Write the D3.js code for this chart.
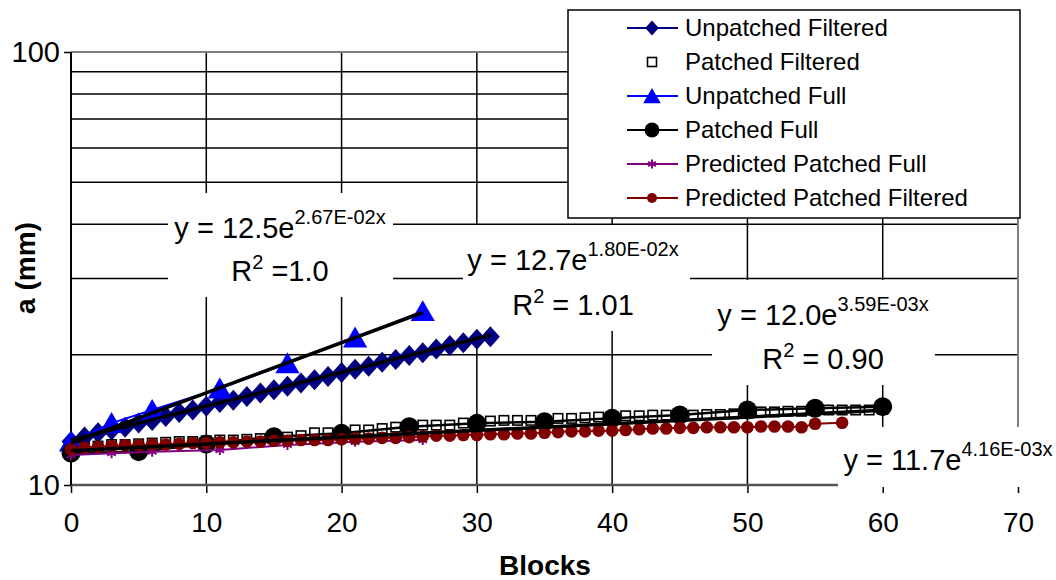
<!DOCTYPE html>
<html><head><meta charset="utf-8">
<script src="https://cdn.jsdelivr.net/npm/d3@7"></script>
<style>body{margin:0;background:#fff;} svg{display:block;font-family:"Liberation Sans",Arial,sans-serif;}</style>
</head><body><svg id="c" width="1056" height="580"></svg>
<script>
// ---------- data ----------
const xTicks = [0,10,20,30,40,50,60,70];
const yTicks = [10,100];
const yGrid = [20,30,40,50,60,70,80,90];
const xGrid = [10,20,30,40,50,60];

const unpFiltX = [0,1,2,3,4,5,6,7,8,9,10,11,12,13,14,15,16,17,18,19,20,21,22,23,24,25,26,27,28,29,30,31];
const unpFiltY = [12.6,12.9,13.2,13.4,13.6,13.9,14.1,14.4,14.7,14.9,15.2,15.5,15.7,16.0,16.3,16.6,16.9,17.2,17.5,17.8,18.2,18.5,18.8,19.2,19.5,19.9,20.2,20.6,21.0,21.3,21.7,22.0];

const patFiltX = [0,1,2,3,4,5,6,7,8,9,10,11,12,13,14,15,16,17,18,19,20,21,22,23,24,25,26,27,28,29,30,31,32,33,34,35,36,37,38,39,40,41,42,43,44,45,46,47,48,49,50,51,52,53,54,55,56,57,58,59,60];
const patFiltY = [12.1,12.2,12.3,12.4,12.4,12.45,12.5,12.55,12.6,12.6,12.65,12.7,12.7,12.75,12.8,12.85,12.9,13.0,13.2,13.2,13.25,13.4,13.4,13.5,13.6,13.65,13.75,13.75,13.75,13.9,13.9,14.05,14.1,14.1,14.1,14.15,14.25,14.25,14.3,14.35,14.4,14.45,14.45,14.5,14.5,14.5,14.5,14.55,14.55,14.6,14.65,14.75,14.75,14.8,14.8,14.85,14.9,14.9,14.9,14.9,14.95];

const unpFullX = [0,3,6,11,16,21,26];
const unpFullY = [12.6,13.9,14.9,16.7,19.1,21.9,25.2];

const patFullX = [0,5,10,15,20,25,30,35,40,45,50,55,60];
const patFullY = [11.86,11.94,12.44,12.93,13.16,13.63,13.88,14.0,14.26,14.51,14.9,15.04,15.17];

const predFullX = [0,3,6,11,16,21,26];
const predFullY = [11.73,11.84,11.94,12.04,12.37,12.58,12.7];

const predFiltX = [0,1,2,3,4,5,6,7,8,9,10,11,12,13,14,15,16,17,18,19,20,21,22,23,24,25,26,27,28,29,30,31,32,33,34,35,36,37,38,39,40,41,42,43,44,45,46,47,48,49,50,51,52,53,54,55,57];
const predFiltY = [12.1,12.2,12.25,12.3,12.35,12.35,12.4,12.4,12.45,12.5,12.5,12.55,12.55,12.6,12.6,12.65,12.65,12.7,12.7,12.7,12.75,12.8,12.8,12.85,12.85,12.9,12.95,13.0,13.0,13.05,13.05,13.1,13.1,13.15,13.15,13.2,13.25,13.3,13.3,13.35,13.35,13.4,13.45,13.5,13.5,13.55,13.55,13.6,13.6,13.6,13.6,13.65,13.65,13.65,13.6,13.85,13.92];

// trendlines (coefficients as printed on the chart)
const trendA = [12.5, 12.7, 12.0];
const trendB = [0.0267, 0.018, 0.00359];
const trendXmax = [26, 31, 60];

const legendNames = ["Unpatched Filtered","Patched Filtered","Unpatched Full","Patched Full","Predicted Patched Full","Predicted Patched Filtered"];
const legendColors = ["#000080","#000000","#0000FF","#000000","#800080","#800000"];
const legendMarkers = ["diamond","square","triangle","circle","asterisk","dot"];
const legendHasLine = [true,false,true,true,true,true];

// ---------- chart ----------
const svg = d3.select("#c");
const L = 71, R = 1018, T = 52, B = 485;
const x = d3.scaleLinear().domain([0,70]).range([L,R]);
const y = d3.scaleLog().domain([10,100]).range([B,T]);

// gridlines
const grid = svg.append("g").attr("stroke","#000").attr("stroke-width",1.5);
grid.selectAll("line.h").data(yGrid).join("line")
  .attr("x1",L).attr("x2",R).attr("y1",d=>y(d)).attr("y2",d=>y(d));
grid.selectAll("line.v").data(xGrid).join("line")
  .attr("x1",d=>x(d)).attr("x2",d=>x(d)).attr("y1",T).attr("y2",B);

// plot border (top/right gray)
svg.append("path").attr("d",`M${L},${T}H${R}V${B}`).attr("fill","none").attr("stroke","#808080").attr("stroke-width",2);

// axes
const xAxis = svg.append("g").attr("transform",`translate(0,${B})`)
  .call(d3.axisBottom(x).tickValues(xTicks).tickSize(8).tickPadding(19).tickFormat(d3.format("d")));
xAxis.select(".domain").remove();
xAxis.selectAll("line").attr("stroke","#000").attr("stroke-width",1.5);
xAxis.selectAll("text").attr("font-size",28).attr("fill","#000").attr("font-family","Liberation Sans, Arial, sans-serif");
svg.append("line").attr("x1",L).attr("x2",R).attr("y1",B).attr("y2",B).attr("stroke","#555").attr("stroke-width",2.5);

const yAxis = svg.append("g").attr("transform",`translate(${L},0)`)
  .call(d3.axisLeft(y).tickValues(yTicks).tickSize(7).tickPadding(4).tickFormat(d3.format("d")));
yAxis.select(".domain").remove();
yAxis.selectAll("line").attr("stroke","#000").attr("stroke-width",1.5);
yAxis.selectAll("text").attr("font-size",29).attr("fill","#000").attr("font-family","Liberation Sans, Arial, sans-serif");
svg.append("line").attr("x1",L).attr("x2",L).attr("y1",T).attr("y2",B).attr("stroke","#000").attr("stroke-width",2);

// axis titles
svg.append("text").attr("x",545).attr("y",575).attr("text-anchor","middle")
  .attr("font-size",28).attr("font-weight","bold").text("Blocks");
svg.append("text").attr("transform","translate(35,268) rotate(-90)").attr("text-anchor","middle")
  .attr("font-size",28).attr("font-weight","bold").text("a (mm)");

// trendline label boxes
const boxes = svg.append("g");
function trendLabel(rx,ry,rw,rh,cx,by1,a,b,r2,by2){
  boxes.append("rect").attr("x",rx).attr("y",ry).attr("width",rw).attr("height",rh).attr("fill","#fff");
  const t = boxes.append("text").attr("x",cx).attr("y",by1).attr("text-anchor","middle").attr("font-size",29);
  t.append("tspan").text("y = "+a+"e");
  t.append("tspan").attr("font-size",20).attr("dy",-14).text(b);
  if (r2 !== null){
    const t2 = boxes.append("text").attr("x",cx).attr("y",by2).attr("text-anchor","middle").attr("font-size",29);
    t2.append("tspan").text("R");
    t2.append("tspan").attr("font-size",20).attr("dy",-12).text("2");
    t2.append("tspan").attr("dy",12).text(r2);
  }
}
trendLabel(168,193,225,104,280,238,"12.5","2.67E-02x"," =1.0",281);
trendLabel(463,225,227,106,573,270,"12.7","1.80E-02x"," = 1.01",315);
trendLabel(712,280,223,105,823,325,"12.0","3.59E-03x"," = 0.90",369);
trendLabel(838,427,218,60,948,470,"11.7","4.16E-03x",null,0);

// ---------- markers ----------
function marker(g, type, color, s){
  if (type==="diamond"){
    g.append("path").attr("d",`M0,${-s}L${s*0.9},0L0,${s}L${-s*0.9},0Z`).attr("fill",color);
  } else if (type==="square"){
    g.append("rect").attr("x",-s).attr("y",-s).attr("width",2*s).attr("height",2*s)
      .attr("fill","#fff").attr("stroke","#000").attr("stroke-width",1.6);
  } else if (type==="triangle"){
    g.append("path").attr("d",`M0,${-s}L${s*1.1},${s*0.9}L${-s*1.1},${s*0.9}Z`).attr("fill",color);
  } else if (type==="circle" || type==="dot"){
    g.append("circle").attr("r",s).attr("fill",color);
  } else if (type==="asterisk"){
    const k = s*0.866;
    g.append("path").attr("d",`M0,${-s}V${s}M${-k},${-s/2}L${k},${s/2}M${-k},${s/2}L${k},${-s/2}`)
      .attr("stroke",color).attr("stroke-width",2).attr("fill","none");
  }
}

const line = d3.line().x(d=>x(d[0])).y(d=>y(d[1]));
const plot = svg.append("g");
function series(xs, ys, color, lw, type, s){
  const pts = xs.map((v,i)=>[v, ys[i]]);
  if (lw>0) plot.append("path").datum(pts).attr("d",line).attr("fill","none").attr("stroke",color).attr("stroke-width",lw);
  pts.forEach(p=>{
    const g = plot.append("g").attr("transform",`translate(${x(p[0])},${y(p[1])})`);
    marker(g,type,color,s);
  });
}
series(unpFiltX, unpFiltY, "#000080", 2, "diamond", 10.5);
series(patFiltX, patFiltY, "#000", 0, "square", 4.7);
series(unpFullX, unpFullY, "#0000FF", 2, "triangle", 11);
series(patFullX, patFullY, "#000", 2.5, "circle", 9.5);
series(predFullX, predFullY, "#800080", 2, "asterisk", 5);
series(predFiltX, predFiltY, "#800000", 2, "dot", 6.3);

// trendlines
trendA.forEach((a,i)=>{
  const pts = [[0, a],[trendXmax[i], a*Math.exp(trendB[i]*trendXmax[i])]];
  plot.append("path").datum(pts).attr("d",line).attr("fill","none").attr("stroke","#000").attr("stroke-width",3.5);
});

// ---------- legend ----------
const lg = svg.append("g");
lg.append("rect").attr("x",568).attr("y",10).attr("width",452).attr("height",208)
  .attr("fill","#fff").attr("stroke","#000").attr("stroke-width",1.5);
legendNames.forEach((n,i)=>{
  const cy = 28 + i*34;
  if (legendHasLine[i]) lg.append("line").attr("x1",627).attr("x2",678).attr("y1",cy).attr("y2",cy)
    .attr("stroke",legendColors[i]).attr("stroke-width",2);
  const g = lg.append("g").attr("transform",`translate(652,${cy})`);
  const sz = [7.5,4.5,8,7.5,4.5,5][i];
  marker(g, legendMarkers[i], legendColors[i], sz);
  lg.append("text").attr("x",685).attr("y",cy).attr("dy","0.35em").attr("font-size",24).text(n);
});
</script></body></html>
